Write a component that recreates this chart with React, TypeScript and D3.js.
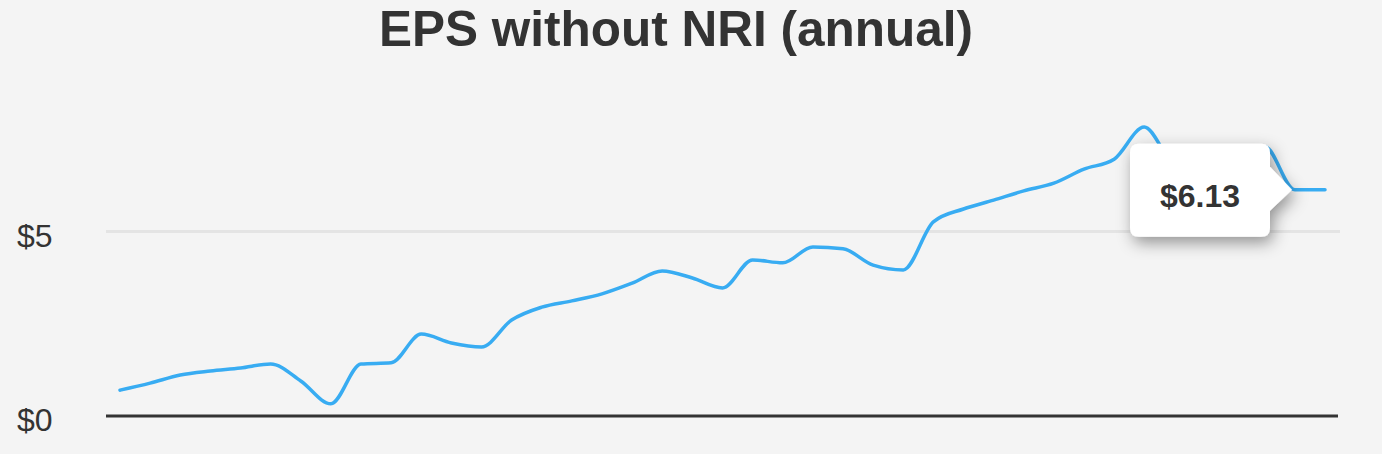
import React from "react";
import * as d3 from "d3";

const title = "EPS without NRI (annual)";
const years = d3.range(1985, 2026).map(String);
const eps = [
  0.70, 0.89, 1.11, 1.22, 1.30, 1.41, 0.95, 0.33, 1.41, 1.44,
  2.22, 1.98, 1.87, 2.60, 2.95, 3.12, 3.31, 3.60, 3.93, 3.74,
  3.47, 4.23, 4.15, 4.58, 4.53, 4.09, 3.96, 5.26, 5.61, 5.85,
  6.10, 6.31, 6.69, 6.96, 7.83, 6.90, 6.95, 7.05, 7.30, 6.13, 6.13,
];
const yTicks = [0, 5];

const W = 1382;
const H = 454;

export default function App() {
  const x = d3.scalePoint<string>().domain(years).range([120, 1325]);
  const y = d3.scaleLinear().domain([0, 5]).range([416, 231.5]);

  const line = d3
    .line<number>()
    .x((_, i) => x(years[i]) as number)
    .y((d) => y(d))
    .curve(d3.curveMonotoneX);

  const lastI = eps.length - 1;
  const tipX = (x(years[lastI]) as number) - 33;
  const tipY = y(eps[lastI]);
  const bx1 = tipX - 162;
  const bx2 = tipX - 22;
  const by1 = tipY - 46;
  const by2 = tipY + 47;
  const r = 9;
  const tooltipPath = [
    `M${bx1 + r},${by1}`,
    `L${bx2 - r},${by1}`,
    `Q${bx2},${by1} ${bx2},${by1 + r}`,
    `L${bx2},${tipY - 23}`,
    `L${tipX},${tipY}`,
    `L${bx2},${tipY + 21}`,
    `L${bx2},${by2 - r}`,
    `Q${bx2},${by2} ${bx2 - r},${by2}`,
    `L${bx1 + r},${by2}`,
    `Q${bx1},${by2} ${bx1},${by2 - r}`,
    `L${bx1},${by1 + r}`,
    `Q${bx1},${by1} ${bx1 + r},${by1}`,
    "Z",
  ].join(" ");

  const font = "'Liberation Sans', Arial, Helvetica, sans-serif";

  return (
    <svg
      width={W}
      height={H}
      style={{ position: "fixed", left: 0, top: 0, display: "block" }}
      fontFamily={font}
    >
      <defs>
        <filter id="shadow" x="-30%" y="-30%" width="170%" height="170%">
          <feDropShadow dx="3" dy="6" stdDeviation="8" floodColor="#000" floodOpacity="0.4" />
        </filter>
      </defs>
      <rect x={0} y={0} width={W} height={H} fill="#f4f4f4" />
      <text x={676} y={46} textAnchor="middle" fontSize={49.5} fontWeight="bold" fill="#333">
        {title}
      </text>
      {yTicks.map((t) => (
        <g key={t}>
          {t !== 0 && (
            <line x1={106} x2={1340} y1={y(t)} y2={y(t)} stroke="#e4e4e4" strokeWidth={3} />
          )}
          <text x={17} y={y(t) + 15} fontSize={32} fill="#333">
            {`$${t}`}
          </text>
        </g>
      ))}
      <line x1={106} x2={1338} y1={y(0)} y2={y(0)} stroke="#333" strokeWidth={3} />
      <path d={line(eps) || ""} fill="none" stroke="#38acf2" strokeWidth={3.5} strokeLinejoin="round" strokeLinecap="round" />
      <path d={tooltipPath} fill="#fff" filter="url(#shadow)" />
      <text
        x={(bx1 + bx2) / 2}
        y={tipY + 17}
        textAnchor="middle"
        fontSize={32}
        fontWeight="bold"
        fill="#333"
      >
        {`$${eps[lastI].toFixed(2)}`}
      </text>
    </svg>
  );
}
